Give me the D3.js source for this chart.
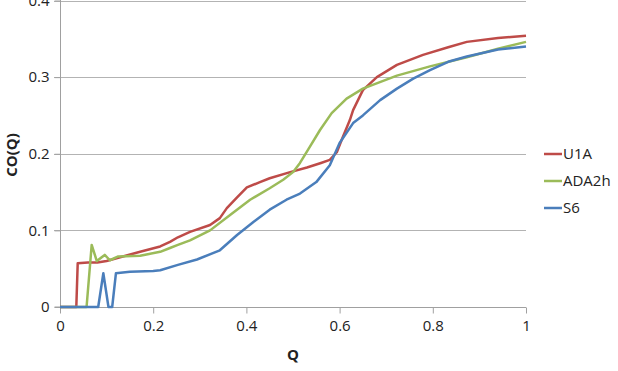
<!DOCTYPE html>
<html>
<head>
<meta charset="utf-8">
<script src="https://cdn.jsdelivr.net/npm/d3@7"></script>
<style>
  body { margin: 0; background: #fff; }
  svg { display: block; font-family: "Open Sans", "Liberation Sans", sans-serif; }
</style>
</head>
<body>
<svg id="chart" width="618" height="371"></svg>
<script>
// Q values and CO(Q), per series
const qU1A  = [0, 0.035, 0.038, 0.06, 0.08, 0.1, 0.129, 0.172, 0.215, 0.236, 0.253, 0.279, 0.322, 0.343, 0.358, 0.38, 0.401, 0.429, 0.45, 0.494, 0.53, 0.56, 0.579, 0.594, 0.605, 0.622, 0.629, 0.65, 0.68, 0.723, 0.779, 0.833, 0.873, 0.94, 1.0];
const coU1A = [0, 0, 0.057, 0.058, 0.058, 0.06, 0.065, 0.072, 0.079, 0.085, 0.091, 0.098, 0.107, 0.116, 0.129, 0.143, 0.156, 0.163, 0.168, 0.176, 0.182, 0.188, 0.192, 0.202, 0.219, 0.244, 0.257, 0.283, 0.3, 0.316, 0.329, 0.339, 0.346, 0.351, 0.354];

const qADA  = [0, 0.057, 0.068, 0.079, 0.096, 0.107, 0.125, 0.172, 0.215, 0.236, 0.253, 0.279, 0.322, 0.365, 0.408, 0.45, 0.479, 0.5, 0.515, 0.536, 0.558, 0.583, 0.615, 0.65, 0.723, 0.794, 0.873, 0.94, 1.0];
const coADA = [0, 0, 0.081, 0.06, 0.068, 0.061, 0.066, 0.067, 0.072, 0.077, 0.081, 0.087, 0.1, 0.12, 0.14, 0.155, 0.166, 0.176, 0.188, 0.209, 0.231, 0.253, 0.272, 0.285, 0.302, 0.314, 0.326, 0.337, 0.346];

const qS6  = [0, 0.082, 0.093, 0.104, 0.112, 0.12, 0.15, 0.2, 0.215, 0.253, 0.294, 0.343, 0.38, 0.415, 0.45, 0.486, 0.515, 0.55, 0.579, 0.6, 0.629, 0.65, 0.687, 0.723, 0.758, 0.794, 0.833, 0.873, 0.94, 1.0];
const coS6 = [0, 0, 0.044, 0, 0, 0.044, 0.046, 0.047, 0.048, 0.055, 0.062, 0.074, 0.094, 0.111, 0.127, 0.14, 0.148, 0.163, 0.185, 0.214, 0.24, 0.25, 0.27, 0.285, 0.298, 0.309, 0.32, 0.327, 0.336, 0.34];

const seriesNames = ["U1A", "ADA2h", "S6"];
const seriesColors = ["#BE4B48", "#9BBB59", "#4A7EBB"];
const xTicks = [0, 0.2, 0.4, 0.6, 0.8, 1];
const yTicks = [0, 0.1, 0.2, 0.3, 0.4];

const series = [
  { name: seriesNames[0], color: seriesColors[0], pts: qU1A.map((q, i) => [q, coU1A[i]]) },
  { name: seriesNames[1], color: seriesColors[1], pts: qADA.map((q, i) => [q, coADA[i]]) },
  { name: seriesNames[2], color: seriesColors[2], pts: qS6.map((q, i) => [q, coS6[i]]) }
];

const svg = d3.select("#chart");
const x = d3.scaleLinear().domain([0, 1]).range([60, 526]);
const y = d3.scaleLinear().domain([0, 0.4]).range([307, 0.5]);

// gridlines
svg.append("g").selectAll("line")
  .data(yTicks.filter(d => d > 0))
  .join("line")
  .attr("x1", 54).attr("x2", x(1))
  .attr("y1", d => Math.round(y(d)) + 0.5).attr("y2", d => Math.round(y(d)) + 0.5)
  .attr("stroke", "#b3b3b3").attr("stroke-width", 1);

// y axis
const yAxis = svg.append("g")
  .attr("transform", "translate(60.5,0)")
  .call(d3.axisLeft(y).tickValues(yTicks).tickSize(6).tickPadding(5).tickFormat(d3.format("")));
yAxis.select(".domain").attr("stroke", "#a0a0a0").attr("d", `M-6,${y(0)}H0V0`);
yAxis.selectAll(".tick line").attr("stroke", "#a0a0a0");
yAxis.selectAll("text").attr("font-size", 15).attr("fill", "#222").attr("font-family", "Open Sans, sans-serif");

// x axis
const xAxis = svg.append("g")
  .attr("transform", `translate(0,${Math.round(y(0)) + 0.5})`)
  .call(d3.axisBottom(x).tickValues(xTicks).tickSize(6).tickPadding(7).tickFormat(d3.format("")));
xAxis.select(".domain").attr("stroke", "#a0a0a0").attr("d", `M${x(0)},0H${x(1)}`);
xAxis.selectAll(".tick line").attr("stroke", "#a0a0a0");
xAxis.selectAll("text").attr("font-size", 15).attr("fill", "#222").attr("font-family", "Open Sans, sans-serif");

// lines
const line = d3.line().x(d => x(d[0])).y(d => y(d[1]));
svg.append("g").selectAll("path")
  .data(series)
  .join("path")
  .attr("d", d => line(d.pts))
  .attr("fill", "none")
  .attr("stroke", d => d.color)
  .attr("stroke-width", 2.5)
  .attr("stroke-linejoin", "round");

// axis titles
svg.append("text")
  .attr("transform", "translate(17,155) rotate(-90)")
  .attr("text-anchor", "middle")
  .attr("font-size", 15).attr("font-weight", "bold").attr("fill", "#222")
  .text("CO(Q)");
svg.append("text")
  .attr("x", 293).attr("y", 360)
  .attr("text-anchor", "middle")
  .attr("font-size", 15).attr("font-weight", "bold").attr("fill", "#222")
  .text("Q");

// legend
const legend = svg.append("g").selectAll("g")
  .data(series)
  .join("g")
  .attr("transform", (d, i) => `translate(544,${154 + i * 27})`);
legend.append("line")
  .attr("x1", 0).attr("x2", 18)
  .attr("stroke", d => d.color).attr("stroke-width", 2.5);
legend.append("text")
  .attr("x", 19).attr("dy", "0.35em")
  .attr("font-size", 15).attr("fill", "#222")
  .text(d => d.name);
</script>
</body>
</html>
